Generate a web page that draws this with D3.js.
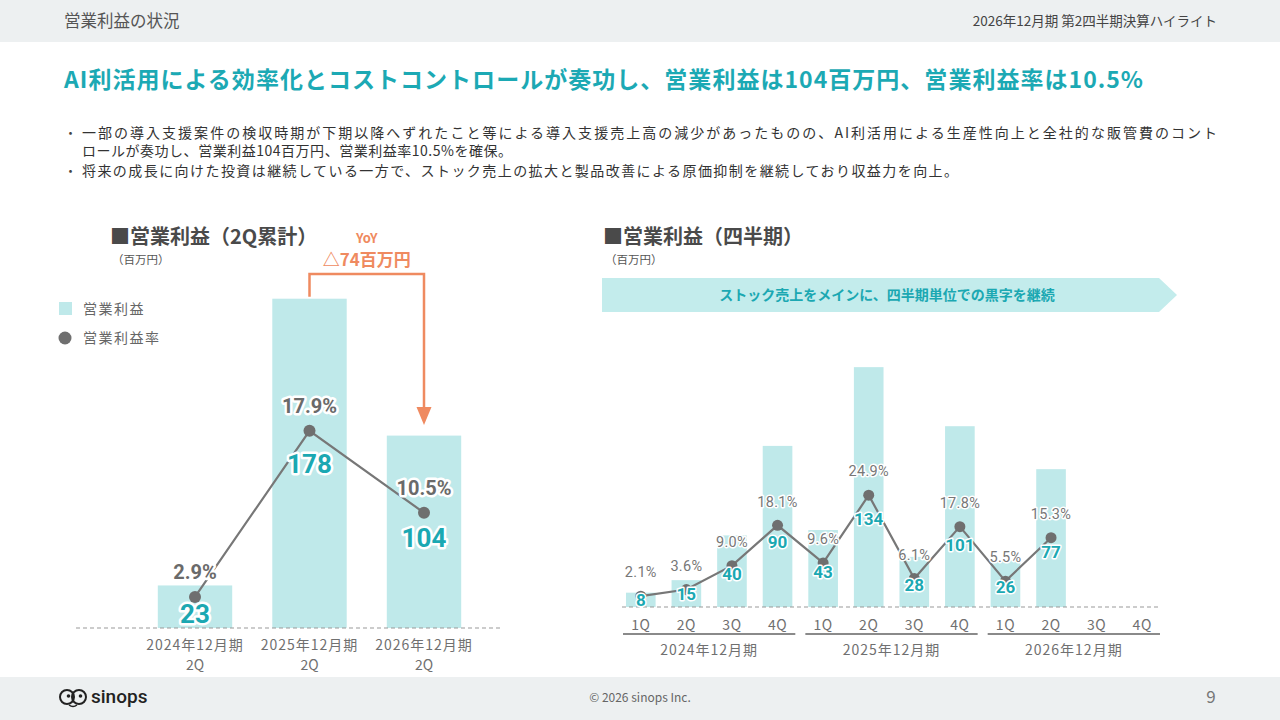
<!DOCTYPE html>
<html>
<head>
<meta charset="utf-8">
<script src="https://cdn.jsdelivr.net/npm/d3@7"></script>
<style>
  body { margin: 0; background: #fff; }
  .halo { paint-order: stroke; stroke: #fff; stroke-linejoin: round; }
</style>
</head>
<body>
<div id="canvas"></div>
<script>
"use strict"

/* Data: cumulative 2Q operating profit */
let cumPeriods = ["2024年12月期", "2025年12月期", "2026年12月期"];
let cumSub = ["2Q", "2Q", "2Q"];
let cumProfit = [23, 178, 104];
let cumMargin = [2.9, 17.9, 10.5];

/* Data: quarterly operating profit */
let qYears = ["2024年12月期", "2025年12月期", "2026年12月期"];
let qQuarters = ["1Q", "2Q", "3Q", "4Q"];
let qProfit = [8, 15, 40, 90, 43, 134, 28, 101, 26, 77, null, null];
let qMargin = [2.1, 3.6, 9.0, 18.1, 9.6, 24.9, 6.1, 17.8, 5.5, 15.3, null, null];

/* Texts */
let pageTitle = "営業利益の状況";
let pageRight = "2026年12月期 第2四半期決算ハイライト";
let headline = "AI利活用による効率化とコストコントロールが奏功し、営業利益は104百万円、営業利益率は10.5%";
let bullets = [
    ["一部の導入支援案件の検収時期が下期以降へずれたこと等による導入支援売上高の減少があったものの、AI利活用による生産性向上と全社的な販管費のコント",
     "ロールが奏功し、営業利益104百万円、営業利益率10.5%を確保。"],
    ["将来の成長に向けた投資は継続している一方で、ストック売上の拡大と製品改善による原価抑制を継続しており収益力を向上。"]
];

/* Drawing config */
let svgWidth = 1280;
let svgHeight = 720;
let jp = "'Noto Sans CJK JP', 'Noto Sans', sans-serif";
let num = "Roboto, 'Noto Sans CJK JP', sans-serif";
let teal = "#1ba8b2";
let barFill = "#bfe9ea";
let grayText = "#707070";
let lineGray = "#777";
let orange = "#ef8a60";

let svg = d3.select("#canvas")
    .append("svg")
    .attr("width", svgWidth)
    .attr("height", svgHeight)
    .style("display", "block");

/**** header / footer bands ****/
svg.append("rect").attr("x", 0).attr("y", 0).attr("width", svgWidth).attr("height", 42).attr("fill", "#edf0f1");
svg.append("rect").attr("x", 0).attr("y", 677).attr("width", svgWidth).attr("height", 43).attr("fill", "#edf0f1");

svg.append("text")
    .attr("x", 64).attr("y", 27)
    .attr("font-family", jp).attr("font-size", 16.5).attr("fill", "#555")
    .text(pageTitle);

svg.append("text")
    .attr("x", 1217).attr("y", 26)
    .attr("text-anchor", "end")
    .attr("font-family", jp).attr("font-size", 13.5).attr("fill", "#444")
    .text(pageRight);

svg.append("text")
    .attr("x", 64).attr("y", 88)
    .attr("font-family", jp).attr("font-size", 23).attr("font-weight", "bold").attr("fill", "#1ca9b4")
    .attr("textLength", 1079).attr("lengthAdjust", "spacing")
    .text(headline);

/* bullet lines */
let bulletLens = [[1135, 430], [876]];
let lineY = 138;
bullets.forEach(function (lines, i) {
    svg.append("text")
        .attr("x", 64).attr("y", lineY)
        .attr("font-family", jp).attr("font-size", 13).attr("fill", "#444")
        .text("・");
    lines.forEach(function (t, j) {
        svg.append("text")
            .attr("x", 82).attr("y", lineY)
            .attr("font-family", jp).attr("font-size", 14).attr("fill", "#333")
            .attr("textLength", bulletLens[i][j]).attr("lengthAdjust", "spacing")
            .text(t);
        lineY += (j === lines.length - 1) ? 20 : 18;
    });
});

/* footer */
svg.append("text")
    .attr("x", 640).attr("y", 702)
    .attr("text-anchor", "middle")
    .attr("font-family", jp).attr("font-size", 12).attr("fill", "#666")
    .text("© 2026 sinops Inc.");
svg.append("text")
    .attr("x", 1211).attr("y", 703)
    .attr("text-anchor", "middle")
    .attr("font-family", jp).attr("font-size", 17).attr("fill", "#777")
    .text("9");

/* logo */
let logo = svg.append("g").attr("transform", "translate(60,697)");
[[7, 0], [19, 0]].forEach(function (c) {
    logo.append("circle").attr("cx", c[0]).attr("cy", c[1]).attr("r", 7)
        .attr("fill", "none").attr("stroke", "#222").attr("stroke-width", 2);
    logo.append("circle").attr("cx", c[0] + 1.5).attr("cy", c[1] - 1).attr("r", 1.8).attr("fill", "#222");
});
logo.append("path").attr("d", "M9,8 Q13,11 17,8").attr("fill", "none").attr("stroke", "#222").attr("stroke-width", 1.5);
logo.append("text").attr("x", 31).attr("y", 6)
    .attr("font-family", "Roboto, sans-serif").attr("font-size", 19).attr("font-weight", 500).attr("fill", "#222")
    .text("sinops");

/**** LEFT CHART: cumulative 2Q ****/
svg.append("text")
    .attr("x", 110).attr("y", 244)
    .attr("font-family", jp).attr("font-size", 20).attr("font-weight", "bold").attr("fill", "#4a4a4a")
    .text("■営業利益（2Q累計）");
svg.append("text")
    .attr("x", 112).attr("y", 264)
    .attr("font-family", jp).attr("font-size", 11.5).attr("fill", "#555")
    .text("（百万円）");

/* legend */
svg.append("rect").attr("x", 59).attr("y", 302).attr("width", 13).attr("height", 13).attr("fill", barFill);
svg.append("text").attr("x", 83).attr("y", 314)
    .attr("font-family", jp).attr("font-size", 14).attr("fill", "#666").attr("letter-spacing", 1.5)
    .text("営業利益");
svg.append("circle").attr("cx", 65).attr("cy", 338).attr("r", 6.5).attr("fill", "#6f6f6f");
svg.append("text").attr("x", 83).attr("y", 343)
    .attr("font-family", jp).attr("font-size", 14).attr("fill", "#666").attr("letter-spacing", 1.5)
    .text("営業利益率");

let xL = d3.scaleBand()
    .domain(cumPeriods)
    .range([137.75, 481.25])
    .paddingInner(0.35)
    .paddingOuter(0.175);

let yL = d3.scaleLinear()
    .domain([0, 200])
    .range([628, 258]);

let yLr = d3.scaleLinear()
    .domain([0, 20])
    .range([629, 407.6]);

let cumData = cumPeriods.map(function (p, i) {
    return { period: p, sub: cumSub[i], profit: cumProfit[i], margin: cumMargin[i] };
});

svg.append("g").selectAll("rect")
    .data(cumData)
    .join("rect")
    .attr("x", d => xL(d.period))
    .attr("width", xL.bandwidth())
    .attr("y", d => yL(d.profit))
    .attr("height", d => yL(0) - yL(d.profit))
    .attr("fill", barFill);

svg.append("line")
    .attr("x1", 76).attr("x2", 500)
    .attr("y1", yL(0)).attr("y2", yL(0))
    .attr("stroke", "#999").attr("stroke-width", 1).attr("stroke-dasharray", "4,3");

let cxL = d => xL(d.period) + xL.bandwidth() / 2;

svg.append("path")
    .datum(cumData)
    .attr("fill", "none")
    .attr("stroke", lineGray)
    .attr("stroke-width", 2.2)
    .attr("d", d3.line().x(cxL).y(d => yLr(d.margin)));

svg.append("g").selectAll("circle")
    .data(cumData)
    .join("circle")
    .attr("cx", cxL)
    .attr("cy", d => yLr(d.margin))
    .attr("r", 6)
    .attr("fill", "#6f6f6f");

/* value labels sit under the point, a bit lower on taller bars */
svg.append("g").selectAll("text")
    .data(cumData)
    .join("text")
    .attr("class", "halo")
    .attr("stroke-width", 5)
    .attr("x", cxL)
    .attr("y", d => yLr(d.margin) + 14.6 + 0.103 * d.profit)
    .attr("dy", "0.36em")
    .attr("text-anchor", "middle")
    .attr("font-family", num).attr("font-size", 26).attr("font-weight", "bold").attr("fill", teal)
    .text(d => d.profit);

svg.append("g").selectAll("text")
    .data(cumData)
    .join("text")
    .attr("class", "halo")
    .attr("stroke-width", 5)
    .attr("x", cxL)
    .attr("y", d => yLr(d.margin) - 25)
    .attr("dy", "0.36em")
    .attr("text-anchor", "middle")
    .attr("font-family", num).attr("font-size", 20).attr("font-weight", "bold").attr("fill", "#6a6a6a")
    .text(d => d.margin.toFixed(1) + "%");

/* x labels */
let xLab = svg.append("g").selectAll("g")
    .data(cumData)
    .join("g");
xLab.append("text")
    .attr("x", cxL).attr("y", 650)
    .attr("text-anchor", "middle")
    .attr("font-family", jp).attr("font-size", 14).attr("fill", grayText).attr("letter-spacing", 1)
    .text(d => d.period);
xLab.append("text")
    .attr("x", cxL).attr("y", 670)
    .attr("text-anchor", "middle")
    .attr("font-family", jp).attr("font-size", 14).attr("fill", grayText)
    .text(d => d.sub);

/* YoY bracket */
let x25 = xL(cumPeriods[1]) + xL.bandwidth() / 2;
let x26 = xL(cumPeriods[2]) + xL.bandwidth() / 2;
let bracketY = 274;
svg.append("path")
    .attr("d", "M" + x25 + "," + (yL(cumProfit[1]) - 2) + " V" + bracketY + " H" + x26 + " V" + 409)
    .attr("fill", "none").attr("stroke", orange).attr("stroke-width", 2.5);
svg.append("path")
    .attr("d", "M" + (x26 - 7.5) + ",407 L" + (x26 + 7.5) + ",407 L" + x26 + ",425 Z")
    .attr("fill", orange);
svg.append("text")
    .attr("x", (x25 + x26) / 2).attr("y", 243)
    .attr("text-anchor", "middle")
    .attr("font-family", jp).attr("font-size", 13).attr("font-weight", "bold").attr("fill", orange)
    .text("YoY");
svg.append("text")
    .attr("x", (x25 + x26) / 2).attr("y", 266)
    .attr("text-anchor", "middle")
    .attr("font-family", jp).attr("font-size", 17).attr("font-weight", "bold").attr("fill", orange)
    .text("△74百万円");

/**** RIGHT CHART: quarterly ****/
svg.append("text")
    .attr("x", 603).attr("y", 244)
    .attr("font-family", jp).attr("font-size", 20).attr("font-weight", "bold").attr("fill", "#4a4a4a")
    .text("■営業利益（四半期）");
svg.append("text")
    .attr("x", 605).attr("y", 264)
    .attr("font-family", jp).attr("font-size", 11.5).attr("fill", "#555")
    .text("（百万円）");

svg.append("polygon")
    .attr("points", "602,278 1159,278 1177,295 1159,312 602,312")
    .attr("fill", "#c3ecec");
svg.append("text")
    .attr("x", 887).attr("y", 300)
    .attr("text-anchor", "middle")
    .attr("font-family", jp).attr("font-size", 14).attr("font-weight", "bold").attr("fill", teal)
    .text("ストック売上をメインに、四半期単位での黒字を継続");

let qData = [];
qYears.forEach(function (y, i) {
    qQuarters.forEach(function (q, j) {
        let k = i * qQuarters.length + j;
        qData.push({ key: y + q, year: y, q: q, profit: qProfit[k], margin: qMargin[k] });
    });
});
let qFilled = qData.filter(d => d.profit !== null);

let xR = d3.scaleBand()
    .domain(qData.map(d => d.key))
    .range([618, 1165])
    .paddingInner(0.35)
    .paddingOuter(0.175);

let yR = d3.scaleLinear()
    .domain([0, 150])
    .range([607, 338.5]);

let yRr = d3.scaleLinear()
    .domain([0, 30])
    .range([605.5, 472.6]);

let cxR = d => xR(d.key) + xR.bandwidth() / 2;

svg.append("g").selectAll("rect")
    .data(qFilled)
    .join("rect")
    .attr("x", d => xR(d.key))
    .attr("width", xR.bandwidth())
    .attr("y", d => yR(d.profit))
    .attr("height", d => yR(0) - yR(d.profit))
    .attr("fill", barFill);

svg.append("line")
    .attr("x1", 622).attr("x2", 1160)
    .attr("y1", yR(0)).attr("y2", yR(0))
    .attr("stroke", "#999").attr("stroke-width", 1).attr("stroke-dasharray", "4,3");

svg.append("path")
    .datum(qFilled)
    .attr("fill", "none")
    .attr("stroke", lineGray)
    .attr("stroke-width", 2.2)
    .attr("d", d3.line().x(cxR).y(d => yRr(d.margin)));

svg.append("g").selectAll("circle")
    .data(qFilled)
    .join("circle")
    .attr("cx", cxR)
    .attr("cy", d => yRr(d.margin))
    .attr("r", 5.5)
    .attr("fill", "#6f6f6f");

svg.append("g").selectAll("text")
    .data(qFilled)
    .join("text")
    .attr("class", "halo")
    .attr("stroke-width", 3)
    .attr("x", cxR)
    .attr("y", d => yRr(d.margin) - 24)
    .attr("dy", "0.36em")
    .attr("text-anchor", "middle")
    .attr("font-family", num).attr("font-size", 14.5).attr("fill", "#777").attr("letter-spacing", 0.3)
    .text(d => d.margin.toFixed(1) + "%");

svg.append("g").selectAll("text")
    .data(qFilled)
    .join("text")
    .attr("class", "halo")
    .attr("stroke-width", 3)
    .attr("x", cxR)
    .attr("y", d => yRr(d.margin) + 2 + 0.16 * d.profit)
    .attr("dy", "0.36em")
    .attr("text-anchor", "middle")
    .attr("font-family", num).attr("font-size", 17).attr("font-weight", "bold").attr("fill", teal)
    .text(d => d.profit);

/* quarter ticks */
svg.append("g").selectAll("text")
    .data(qData)
    .join("text")
    .attr("x", cxR)
    .attr("y", 630)
    .attr("text-anchor", "middle")
    .attr("font-family", jp).attr("font-size", 14).attr("fill", grayText).attr("letter-spacing", 0.5)
    .text(d => d.q);

/* fiscal year groups */
let step = xR.step();
qYears.forEach(function (y) {
    let x0 = xR(y + qQuarters[0]) + xR.bandwidth() / 2 - step * 0.39;
    let x1 = xR(y + qQuarters[qQuarters.length - 1]) + xR.bandwidth() / 2 + step * 0.39;
    svg.append("line")
        .attr("x1", x0).attr("x2", x1)
        .attr("y1", 634).attr("y2", 634)
        .attr("stroke", "#8a8a8a").attr("stroke-width", 2);
    svg.append("text")
        .attr("x", (x0 + x1) / 2).attr("y", 655)
        .attr("text-anchor", "middle")
        .attr("font-family", jp).attr("font-size", 14).attr("fill", grayText).attr("letter-spacing", 1)
        .text(y);
});
</script>
</body>
</html>
